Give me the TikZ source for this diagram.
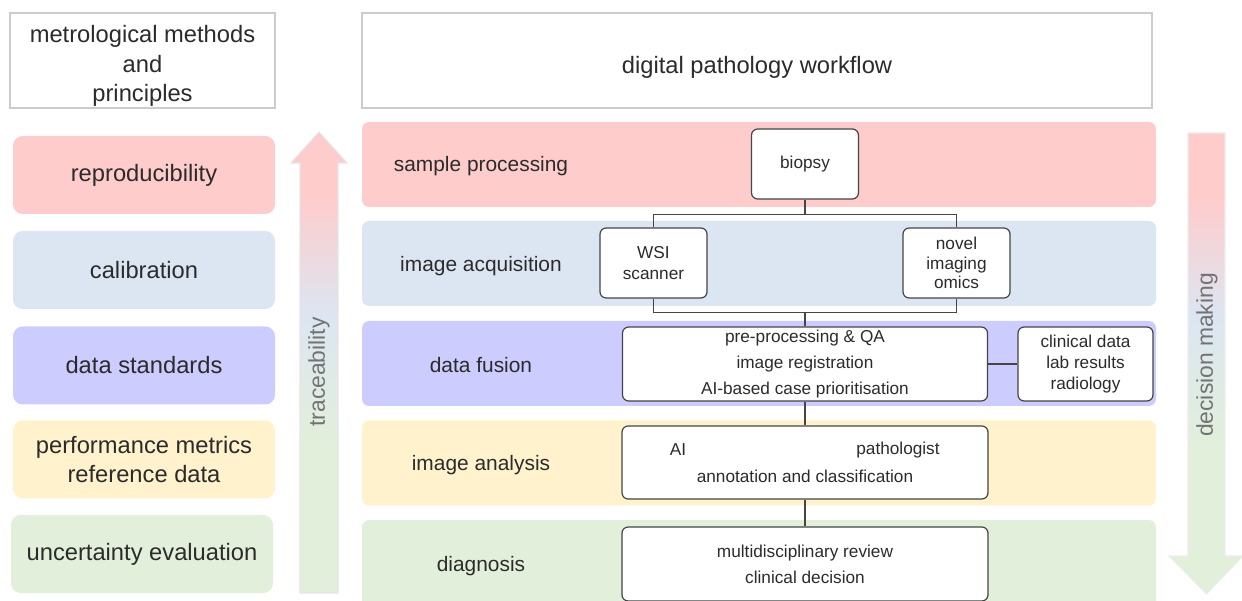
\documentclass[tikz,border=0pt]{standalone}
\usepackage{fontspec}
\setmainfont{Liberation Sans}
\definecolor{ink}{HTML}{2B2B2B}
\definecolor{edge}{HTML}{454545}
\definecolor{rose}{HTML}{FFCCCC}
\definecolor{sky}{HTML}{DCE6F2}
\definecolor{lilac}{HTML}{CCCCFF}
\definecolor{cream}{HTML}{FFF2CC}
\definecolor{sage}{HTML}{E2EFDA}
\pgfdeclareverticalshading{stagefade}{100bp}{color(0bp)=(sage); color(41bp)=(sage); color(55bp)=(sky); color(68bp)=(rose); color(100bp)=(rose)}
\begin{document}
\begin{tikzpicture}[x=0.02cm, y=-0.02cm,
    head/.style={draw=black!20, line width=0.8pt, fill=white},
    headtext/.style={text=ink, align=center, font=\fontsize{13.5}{16.7}\selectfont},
    pillar/.style={rounded corners=5.5pt, text=ink, align=center,
      minimum width=262*0.02cm, minimum height=78*0.02cm, font=\fontsize{13.5}{16.5}\selectfont},
    band/.style={rounded corners=4pt, minimum width=794*0.02cm, minimum height=85*0.02cm, inner sep=0pt},
    bandlabel/.style={text=ink, font=\fontsize{11.9}{14}\selectfont},
    stepbox/.style={draw=edge, line width=0.7pt, fill=white, rounded corners=3.5pt, text=ink,
      align=center, inner sep=0pt, font=\fontsize{9.8}{11.9}\selectfont},
    steptext/.style={text=ink, font=\fontsize{9.8}{11.9}\selectfont},
    arrowtext/.style={rotate=90, text=black!55, font=\fontsize{13}{15}\selectfont},
    link/.style={draw=edge, line width=0.7pt}]
  \useasboundingbox (0,0) rectangle (1242,601);
  \clip (0,0) rectangle (1242,601);

  % headers
  \node[head, minimum width=265*0.02cm, minimum height=95*0.02cm] (metro) at (142.5,60.5) {};
  \node[headtext] (metrotext) at (142.5,66) {metrological methods\\and\\principles};
  \node[head, minimum width=790*0.02cm, minimum height=95*0.02cm] (workflow) at (757,60.5) {};
  \node[headtext] (workflowtext) at (757,67) {digital pathology workflow};

  % metrological principles
  \node[pillar, fill=rose] (repro) at (144,175) {reproducibility};
  \node[pillar, fill=sky] (calib) at (144,270) {calibration};
  \node[pillar, fill=lilac] (standards) at (144,365.5) {data standards};
  \node[pillar, fill=cream] (metrics) at (144,459.5) {performance metrics\\reference data};
  \node[pillar, fill=sage] (uncert) at (142,554) {uncertainty evaluation};

  % traceability arrow
  \shadedraw[shading=stagefade, draw=black!10, line width=0.6pt]
    (300,593) -- (300,163) -- (291,163) -- (319,132) -- (347,163) -- (338,163) -- (338,593) -- cycle;
  \node[arrowtext] (trace) at (319,372) {traceability};

  % decision making arrow
  \shadedraw[shading=stagefade, draw=black!7, line width=0.6pt]
    (1188,133) -- (1225,133) -- (1225,556) -- (1243,556) -- (1206.5,594) -- (1169,556) -- (1188,556) -- cycle;
  \node[arrowtext] (decide) at (1207,355) {decision making};

  % workflow stages
  \node[band, fill=rose] (sampleband) at (759,164.5) {};
  \node[band, fill=sky] (acqband) at (759,263.5) {};
  \node[band, fill=lilac] (fusionband) at (759,363.5) {};
  \node[band, fill=cream] (analysisband) at (759,463) {};
  \node[band, fill=sage, minimum height=90*0.02cm] (diagband) at (759,565) {};

  \node[bandlabel] (samplelabel) at (481,166) {sample processing};
  \node[bandlabel] (acqlabel) at (481,266) {image acquisition};
  \node[bandlabel] (fusionlabel) at (481,365) {data fusion};
  \node[bandlabel] (analysislabel) at (481,465) {image analysis};
  \node[bandlabel] (diaglabel) at (481,566) {diagnosis};

  % workflow steps
  \node[stepbox, minimum width=107*0.02cm, minimum height=70*0.02cm] (biopsy) at (805,164) {\raisebox{-2pt}{biopsy}};
  \node[stepbox, minimum width=107*0.02cm, minimum height=70*0.02cm] (wsi) at (653.5,263) {WSI\\scanner};
  \node[stepbox, minimum width=107*0.02cm, minimum height=70*0.02cm, font=\fontsize{9.8}{11}\selectfont] (novel) at (956.5,263) {novel\\imaging\\omics};
  \node[stepbox, minimum width=365*0.02cm, minimum height=74*0.02cm, font=\fontsize{9.8}{15}\selectfont] (fusion) at (805,364) {pre-processing \& QA\\image registration\\AI-based case prioritisation};
  \node[stepbox, minimum width=135*0.02cm, minimum height=74*0.02cm, font=\fontsize{9.8}{12.2}\selectfont] (clinical) at (1085.5,364) {clinical data\\lab results\\radiology};
  \node[stepbox, minimum width=366*0.02cm, minimum height=73*0.02cm] (analysis) at (805,462.5) {};
  \node[steptext] (ai) at (678,450) {AI};
  \node[steptext] (patho) at (898,450) {pathologist};
  \node[steptext] (annot) at (805,476) {annotation and classification};
  \node[stepbox, minimum width=366*0.02cm, minimum height=74*0.02cm, font=\fontsize{9.8}{14.7}\selectfont] (diag) at (805,564) {multidisciplinary review\\clinical decision};

  % connectors
  \draw[link] (biopsy.south) -- ++(0,15) coordinate (fork);
  \draw[link] (wsi.north) |- (fork) -| (novel.north);
  \draw[link] (fusion.north) -- ++(0,-14) coordinate (join);
  \draw[link] (wsi.south) |- (join) -| (novel.south);
  \draw[link] (fusion.east) -- (clinical.west);
  \draw[link] (fusion.south) -- (analysis.north);
  \draw[link] (analysis.south) -- (diag.north);
\end{tikzpicture}
\end{document}
